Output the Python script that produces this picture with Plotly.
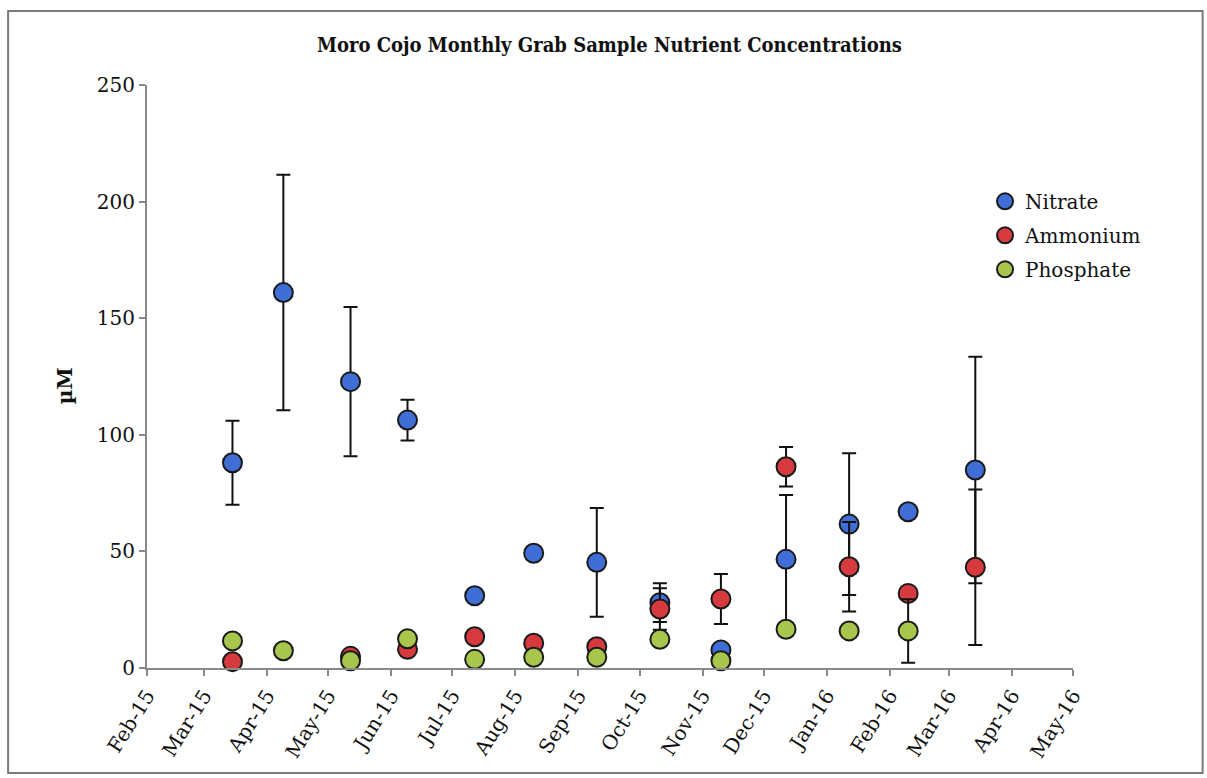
import plotly.graph_objects as go

# Sampling dates (monthly grab samples)
sample_dates = [
    "2015-03-15", "2015-04-09", "2015-05-12", "2015-06-09", "2015-07-12",
    "2015-08-10", "2015-09-10", "2015-10-11", "2015-11-10", "2015-12-12",
    "2016-01-12", "2016-02-10", "2016-03-14",
]

# Concentrations (µM) and standard deviations; None = not measured / no bar
nitrate = [88.0, 161.0, 122.8, 106.3, 31.0, 49.2, 45.3, 28.0, 7.7, 46.6, 61.7, 67.0, 84.9]
nitrate_sd = [18.0, 50.5, 32.0, 8.7, None, None, 23.3, 8.3, None, 27.6, 30.4, None, 48.6]

ammonium = [2.7, None, 5.0, 8.0, 13.4, 10.6, 9.1, 25.3, 29.6, 86.3, 43.4, 32.0, 43.2]
ammonium_sd = [None, None, None, None, None, None, None, 8.9, 10.7, 8.5, 19.2, None, 33.3]

phosphate = [11.6, 7.4, 3.1, 12.5, 3.7, 4.6, 4.6, 12.3, 3.1, 16.6, 15.9, 15.9, None]
phosphate_sd = [None, None, None, None, None, None, None, None, None, None, None, 13.6, None]

series = [
    ("Nitrate", nitrate, nitrate_sd, "#3f6fd6"),
    ("Ammonium", ammonium, ammonium_sd, "#d63a3e"),
    ("Phosphate", phosphate, phosphate_sd, "#a9c64c"),
]

SERIF = "DejaVu Serif"

fig = go.Figure()
for name, vals, sd, color in series:
    fig.add_trace(go.Scatter(
        x=sample_dates,
        y=vals,
        name=name,
        legendgroup=name,
        mode="markers",
        cliponaxis=False,
        marker=dict(size=19, color=color, line=dict(color="#1a1a1a", width=2)),
        error_y=dict(type="data", array=sd, visible=True,
                     color="#111111", thickness=2, width=7),
    ))

fig.update_layout(
    width=1207,
    height=778,
    paper_bgcolor="white",
    plot_bgcolor="white",
    margin=dict(l=147, r=134, t=85, b=110),
    title=dict(
        text="<b>Moro Cojo Monthly Grab Sample Nutrient Concentrations</b>",
        font=dict(family="DejaVu Serif Condensed", size=20, color="#111111"),
        x=0.505, xref="container", xanchor="center",
        y=1 - 45 / 778, yref="container", yanchor="middle",
    ),
    showlegend=True,
    legend=dict(
        x=0.905, y=0.834, xanchor="left", yanchor="top",
        font=dict(family=SERIF, size=20, color="#111111"),
        bgcolor="rgba(0,0,0,0)",
        tracegroupgap=5,
        itemwidth=30,
    ),
    font=dict(family=SERIF, color="#111111"),
)

fig.update_xaxes(
    type="date",
    range=["2015-02-01", "2016-05-01"],
    tick0="2015-02-01",
    dtick="M1",
    tickformat="%b-%y",
    tickangle=-58,
    tickfont=dict(family=SERIF, size=20, color="#111111"),
    showgrid=False,
    zeroline=False,
    showline=True,
    linecolor="#8a8a8a",
    linewidth=2,
    ticks="outside",
    ticklen=6,
    tickcolor="#8a8a8a",
    tickwidth=1.5,
)

fig.update_yaxes(
    range=[0, 250],
    tick0=0,
    dtick=50,
    tickfont=dict(family=SERIF, size=20, color="#111111"),
    showgrid=False,
    zeroline=False,
    showline=True,
    linecolor="#8a8a8a",
    linewidth=2,
    ticks="outside",
    ticklen=6,
    tickcolor="#8a8a8a",
    tickwidth=1.5,
)

# Y-axis label
fig.add_annotation(
    text="<b>µM</b>", xref="paper", yref="paper",
    x=-0.0886, y=0.485, xanchor="center", yanchor="middle",
    showarrow=False, textangle=-90,
    font=dict(family=SERIF, size=20, color="#111111"),
)

# Chart frame
fig.add_shape(
    type="rect", xref="paper", yref="paper",
    x0=-0.150, x1=1.140, y0=-0.180, y1=1.127,
    line=dict(color="#7a7a7a", width=2), fillcolor="rgba(0,0,0,0)",
    layer="below",
)

fig.write_html("out.html")
